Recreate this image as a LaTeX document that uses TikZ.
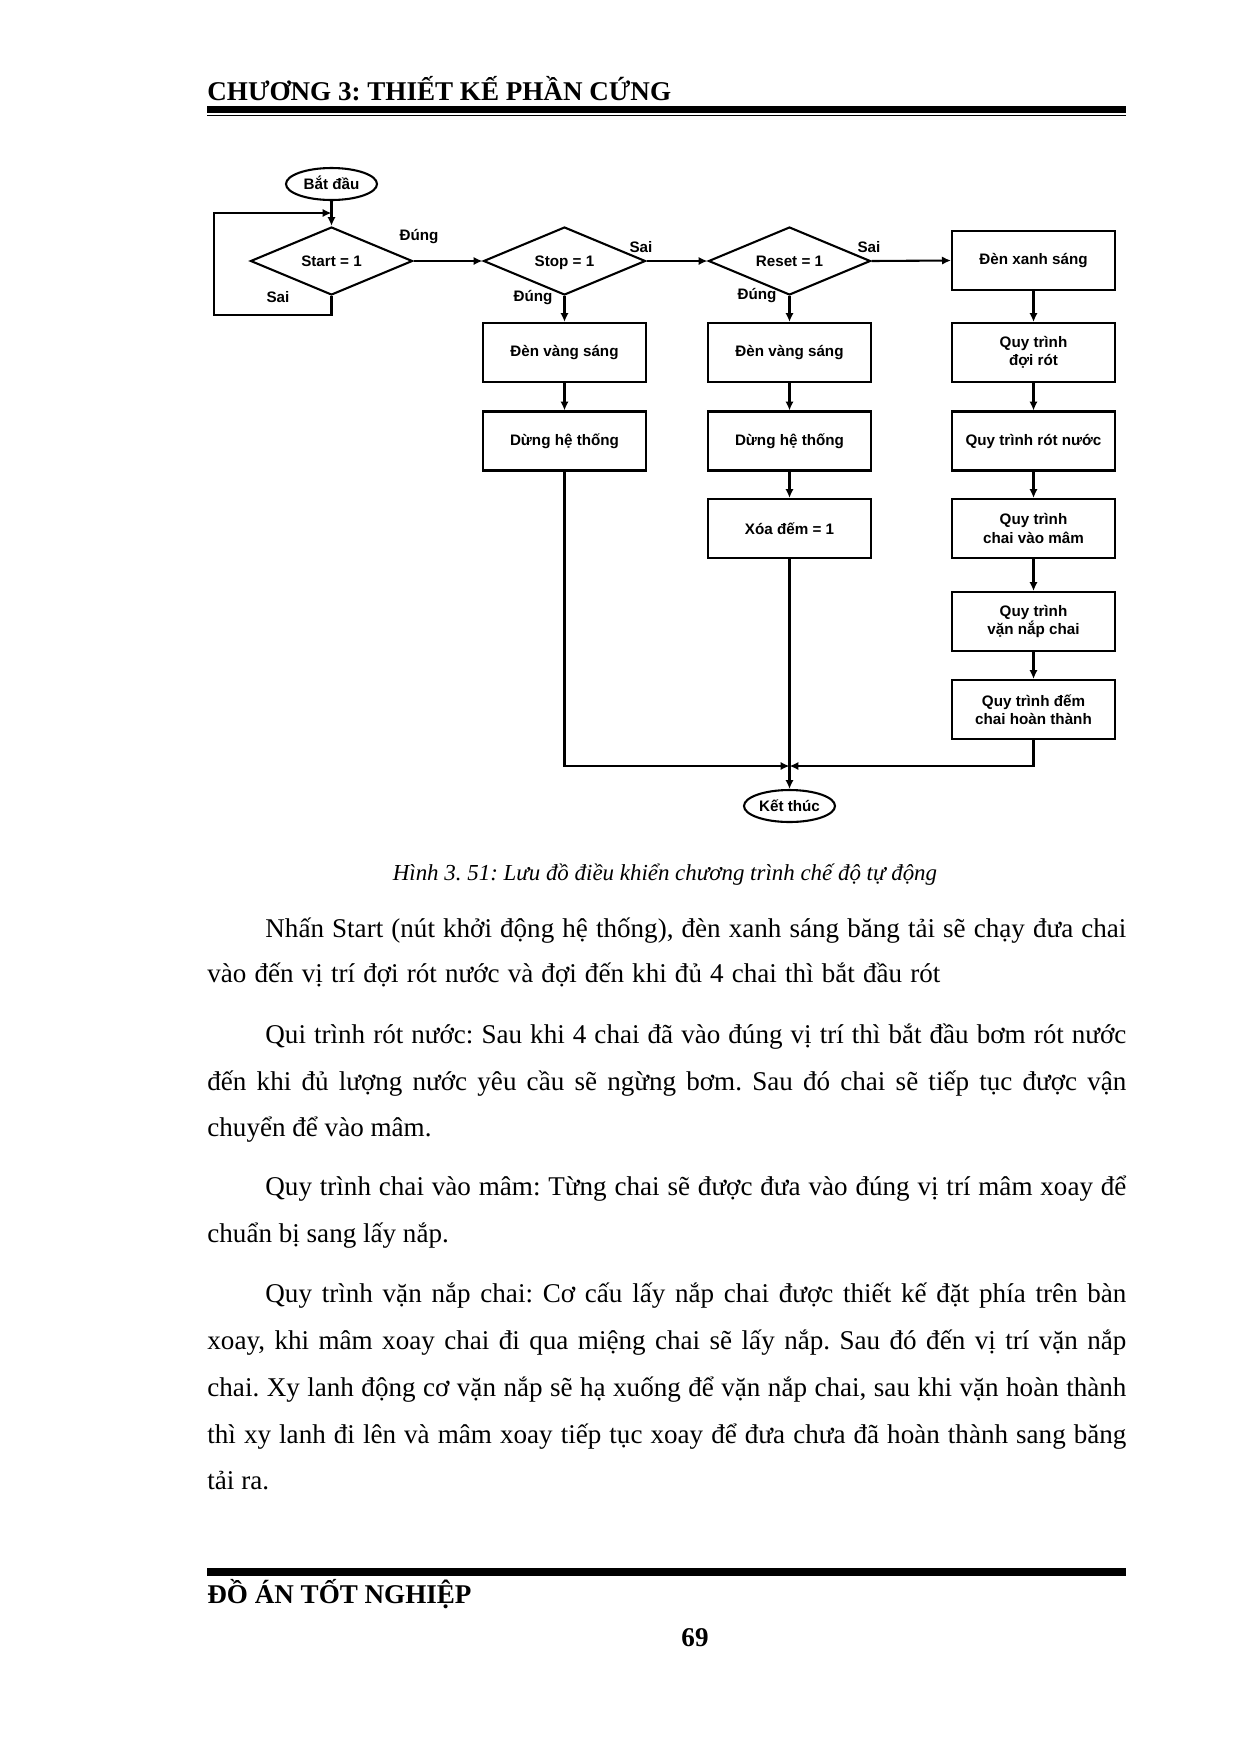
\documentclass[tikz,border=0pt]{standalone}
\usepackage{fontspec}
\setmainfont{Liberation Serif}
\setsansfont{Liberation Sans}
\usetikzlibrary{shapes.geometric,arrows.meta}
\frenchspacing
\begin{document}
\begin{tikzpicture}[x=0.48pt,y=-0.48pt,
  fc/.style={font=\sffamily\bfseries\fontsize{7.3}{8.8}\selectfont},
  pbox/.style={fc,draw,rectangle,line width=1pt,minimum width={163*0.48pt},minimum height={59*0.48pt},inner sep=0pt,align=center},
  dec/.style={fc,draw,diamond,aspect=2.38,line width=1pt,minimum width={162*0.48pt},minimum height={68*0.48pt},inner sep=0pt,text height=0.72em,text depth=0.18em},
  term/.style={fc,draw,ellipse,line width=1pt,minimum width={91*0.48pt},minimum height={32*0.48pt},inner sep=0pt,text height=0.72em,text depth=0.18em},
  lbl/.style={fc,inner sep=0pt,text height=0.72em,text depth=0.18em},
  arr/.style={line width=1pt,-{Latex[length=4.3pt,width=4pt]}},
  thk/.style={line width=1.4pt},
  txt/.style={inner sep=0pt,anchor=base west,font=\fontsize{13}{15}\selectfont},
  hd/.style={inner sep=0pt,font=\bfseries\fontsize{13}{15}\selectfont}]
\useasboundingbox (0,0) rectangle (1240,1754);
\fill[white] (0,0) rectangle (1240,1754);
% header
\node[hd,anchor=base west] (hdr) at (207,100) {CHƯƠNG 3: THIẾT KẾ PHẦN CỨNG};
\fill (207,106) rectangle (1126,113);
\fill (207,114.5) rectangle (1126,116);
% flowchart nodes
\node[term] (bd) at (331.5,184) {Bắt đầu};
\node[dec] (d1) at (331.5,261) {Start = 1};
\node[dec] (d2) at (564.5,261) {Stop = 1};
\node[dec] (d3) at (789.5,261) {Reset = 1};
\node[pbox] (xanh) at (1033.5,260.5) {Đèn xanh sáng};
\node[pbox] (v1) at (564.5,352.5) {Đèn vàng sáng};
\node[pbox] (s1) at (564.5,441) {Dừng hệ thống};
\node[pbox] (v2) at (789.5,352.5) {Đèn vàng sáng};
\node[pbox] (s2) at (789.5,441) {Dừng hệ thống};
\node[pbox] (x2) at (789.5,528.5) {Xóa đếm = 1};
\node[pbox] (q1) at (1033.5,352.5) {Quy trình\\đợi rót};
\node[pbox] (q2) at (1033.5,441) {Quy trình rót nước};
\node[pbox] (q3) at (1033.5,528.5) {Quy trình\\chai vào mâm};
\node[pbox] (q4) at (1033.5,621.5) {Quy trình\\vặn nắp chai};
\node[pbox] (q5) at (1033.5,709.5) {Quy trình đếm\\chai hoàn thành};
\node[term] (kt) at (789.5,806) {Kết thúc};
% labels
\node[lbl] (l1) at (419,235) {Đúng};
\node[lbl] (l2) at (278,297) {Sai};
\node[lbl] (l3) at (641,247) {Sai};
\node[lbl] (l4) at (533,296) {Đúng};
\node[lbl] (l5) at (869,247) {Sai};
\node[lbl] (l6) at (757,294) {Đúng};
% connectors
\coordinate (lpa) at (214,315);
\coordinate (lpb) at (214,213);
\coordinate (lpj) at (331.5,213);
\coordinate (mg) at (789.5,766);
\draw[arr] (bd.south) -- (d1.north);
\draw[arr] (d1.south) |- (lpa) -- (lpb) -- (lpj);
\draw[arr] (d1.east) -- (d2.west);
\draw[arr] (d2.east) -- (d3.west);
\draw[arr] (d3.east) -- (xanh.west);
\draw[arr] (d2.south) -- (v1.north);
\draw[arr] (v1.south) -- (s1.north);
\draw[arr,thk] (d3.south) -- (v2.north);
\draw[arr,thk] (v2.south) -- (s2.north);
\draw[arr,thk] (s2.south) -- (x2.north);
\draw[arr] (xanh.south) -- (q1.north);
\draw[arr] (q1.south) -- (q2.north);
\draw[arr] (q2.south) -- (q3.north);
\draw[arr] (q3.south) -- (q4.north);
\draw[arr] (q4.south) -- (q5.north);
\draw[arr] (s1.south) |- (mg);
\draw[arr] (q5.south) |- (mg);
\draw[arr,thk] (x2.south) -- (kt.north);
% caption
\node[inner sep=0pt,anchor=base,font=\itshape\fontsize{11}{13}\selectfont] (cap) at (665,880) {Hình 3. 51: Lưu đồ điều khiển chương trình chế độ tự động};
% body text
\node[txt] (p1a) at (265,937) {\makebox[413.28pt][s]{Nhấn Start (nút khởi động hệ thống), đèn xanh sáng băng tải sẽ chạy đưa chai}};
\node[txt] (p1b) at (207,982) {\makebox[351.8pt][s]{vào đến vị trí đợi rót nước và đợi đến khi đủ 4 chai thì bắt đầu rót}};
\node[txt] (p2a) at (265,1043) {\makebox[413.28pt][s]{Qui trình rót nước: Sau khi 4 chai đã vào đúng vị trí thì bắt đầu bơm rót nước}};
\node[txt] (p2b) at (207,1090) {\makebox[441.12pt][s]{đến khi đủ lượng nước yêu cầu sẽ ngừng bơm. Sau đó chai sẽ tiếp tục được vận}};
\node[txt] (p2c) at (207,1136) {chuyển để vào mâm.};
\node[txt] (p3a) at (265,1195) {\makebox[413.28pt][s]{Quy trình chai vào mâm: Từng chai sẽ được đưa vào đúng vị trí mâm xoay để}};
\node[txt] (p3b) at (207,1242) {chuẩn bị sang lấy nắp.};
\node[txt] (p4a) at (265,1302) {\makebox[413.28pt][s]{Quy trình vặn nắp chai: Cơ cấu lấy nắp chai được thiết kế đặt phía trên bàn}};
\node[txt] (p4b) at (207,1349) {\makebox[441.12pt][s]{xoay, khi mâm xoay chai đi qua miệng chai sẽ lấy nắp. Sau đó đến vị trí vặn nắp}};
\node[txt] (p4c) at (207,1396) {\makebox[441.12pt][s]{chai. Xy lanh động cơ vặn nắp sẽ hạ xuống để vặn nắp chai, sau khi vặn hoàn thành}};
\node[txt] (p4d) at (207,1443) {\makebox[441.12pt][s]{thì xy lanh đi lên và mâm xoay tiếp tục xoay để đưa chưa đã hoàn thành sang băng}};
\node[txt] (p4e) at (207,1489) {tải ra.};
% footer
\fill (207,1568) rectangle (1126,1576);
\node[hd,anchor=base west] (ftr) at (207,1603) {ĐỒ ÁN TỐT NGHIỆP};
\node[hd,anchor=base] (pg) at (695,1646) {69};
\end{tikzpicture}
\end{document}
